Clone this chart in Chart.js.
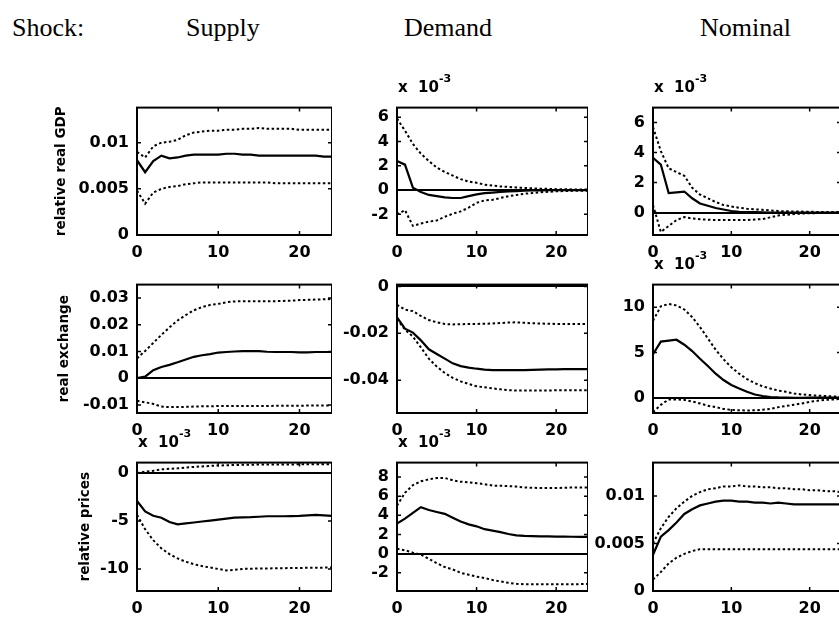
<!DOCTYPE html>
<html>
<head>
<meta charset="utf-8">
<script src="https://cdn.jsdelivr.net/npm/chart.js@4"></script>
<style>
  html, body { margin: 0; padding: 0; background: #fff; }
  body { position: relative; width: 839px; height: 623px; overflow: hidden; }
  .hd { position: absolute; top: 15px; font: 26px "Liberation Serif", serif; line-height: 26px; color: #000; white-space: nowrap; }
  .exp { position: absolute; font: bold 15px "DejaVu Sans", sans-serif; line-height: 15px; color: #000; white-space: nowrap; }
  .exp span { position: relative; top: -10px; font-size: 11px; }
  canvas { position: absolute; }
</style>
</head>
<body>
<div class="hd" style="left:12px">Shock:</div>
<div class="hd" style="left:186px">Supply</div>
<div class="hd" style="left:404px">Demand</div>
<div class="hd" style="left:700px">Nominal</div>

<script>
// horizon (quarters after the shock)
const horizon = [0, 1, 2, 3, 4, 5, 6, 7, 8, 9, 10, 11, 12, 13, 14, 15, 16, 17, 18, 19, 20, 21, 22, 23, 24];
const xTicks = [0, 10, 20];

// --- relative real GDP ---
const gdpSupply   = [0.0081, 0.0068, 0.0080, 0.0086, 0.0083, 0.0084, 0.0086, 0.0087, 0.0087, 0.0087, 0.0087, 0.0088, 0.0088, 0.0087, 0.0087, 0.0086, 0.0086, 0.0086, 0.0086, 0.0086, 0.0086, 0.0086, 0.0086, 0.0085, 0.0085];
const gdpSupplyHi = [0.0090, 0.0084, 0.0096, 0.0100, 0.0101, 0.0103, 0.0108, 0.0111, 0.0112, 0.0113, 0.0113, 0.0114, 0.0114, 0.0115, 0.0115, 0.0116, 0.0115, 0.0115, 0.0115, 0.0115, 0.0114, 0.0114, 0.0114, 0.0114, 0.0114];
const gdpSupplyLo = [0.0048, 0.0034, 0.0046, 0.0050, 0.0052, 0.0053, 0.0055, 0.0056, 0.0057, 0.0057, 0.0057, 0.0057, 0.0057, 0.0057, 0.0057, 0.0057, 0.0057, 0.0056, 0.0056, 0.0056, 0.0056, 0.0056, 0.0056, 0.0056, 0.0056];
const gdpSupplyTicks = [0, 0.005, 0.01];
const gdpSupplyLabels = ['0', '0.005', '0.01'];

// (x 10^-3)
const gdpDemand   = [2.4, 2.1, 0.2, -0.15, -0.4, -0.5, -0.6, -0.65, -0.65, -0.5, -0.35, -0.25, -0.2, -0.15, -0.1, -0.08, -0.05, -0.03, -0.02, -0.01, 0, 0, 0, 0, 0];
const gdpDemandHi = [5.9, 4.9, 3.8, 3.0, 2.4, 1.85, 1.5, 1.2, 0.9, 0.7, 0.6, 0.45, 0.37, 0.3, 0.26, 0.22, 0.18, 0.15, 0.12, 0.1, 0.08, 0.07, 0.06, 0.05, 0.05];
const gdpDemandLo = [-2.0, -1.65, -2.95, -2.75, -2.6, -2.5, -2.2, -1.95, -1.75, -1.45, -1.05, -0.85, -0.8, -0.65, -0.5, -0.4, -0.3, -0.24, -0.18, -0.14, -0.1, -0.08, -0.06, -0.05, -0.05];
const gdpDemandTicks = [-2, 0, 2, 4, 6];
const gdpDemandLabels = ['-2', '0', '2', '4', '6'];

// (x 10^-3)
const gdpNominal   = [3.65, 3.2, 1.3, 1.35, 1.4, 0.95, 0.6, 0.45, 0.3, 0.2, 0.1, 0.05, 0.03, 0.02, 0.01, 0, 0, 0, 0, 0, 0, 0, 0, 0, 0];
const gdpNominalHi = [5.7, 4.1, 2.95, 2.7, 2.45, 1.65, 1.2, 0.95, 0.7, 0.5, 0.4, 0.32, 0.25, 0.21, 0.18, 0.14, 0.1, 0.08, 0.07, 0.06, 0.05, 0.04, 0.04, 0.03, 0.03];
const gdpNominalLo = [0.5, -1.3, -0.9, -0.5, -0.3, -0.4, -0.45, -0.48, -0.5, -0.5, -0.5, -0.5, -0.5, -0.47, -0.43, -0.32, -0.2, -0.15, -0.1, -0.07, -0.05, -0.04, -0.03, -0.03, -0.02];
const gdpNominalTicks = [0, 2, 4, 6];
const gdpNominalLabels = ['0', '2', '4', '6'];

// --- real exchange ---
const rerSupply   = [0, 0.0006, 0.0030, 0.0042, 0.0050, 0.0060, 0.0070, 0.0080, 0.0086, 0.0090, 0.0096, 0.0098, 0.0100, 0.0101, 0.0101, 0.0101, 0.0099, 0.0098, 0.0098, 0.0098, 0.0097, 0.0097, 0.0098, 0.0098, 0.0098];
const rerSupplyHi = [0.0074, 0.0102, 0.0132, 0.0162, 0.0190, 0.0216, 0.0236, 0.0254, 0.0266, 0.0274, 0.0278, 0.0284, 0.0287, 0.0288, 0.0288, 0.0288, 0.0288, 0.0288, 0.0289, 0.0290, 0.0292, 0.0293, 0.0294, 0.0295, 0.0296];
const rerSupplyLo = [-0.0084, -0.0090, -0.0096, -0.0106, -0.0108, -0.0108, -0.0107, -0.0106, -0.0105, -0.0105, -0.0104, -0.0104, -0.0104, -0.0104, -0.0104, -0.0104, -0.0104, -0.0103, -0.0103, -0.0103, -0.0103, -0.0102, -0.0102, -0.0102, -0.0102];
const rerSupplyTicks = [-0.01, 0, 0.01, 0.02, 0.03];
const rerSupplyLabels = ['-0.01', '0', '0.01', '0.02', '0.03'];

const rerDemand   = [-0.0132, -0.0180, -0.0197, -0.0230, -0.0268, -0.0288, -0.0308, -0.0328, -0.0340, -0.0346, -0.0351, -0.0355, -0.0357, -0.0357, -0.0357, -0.0357, -0.0357, -0.0356, -0.0355, -0.0354, -0.0354, -0.0353, -0.0353, -0.0353, -0.0353];
const rerDemandHi = [-0.0078, -0.0099, -0.0105, -0.0126, -0.0143, -0.0153, -0.0160, -0.0162, -0.0161, -0.0160, -0.0160, -0.0159, -0.0158, -0.0156, -0.0154, -0.0153, -0.0155, -0.0157, -0.0158, -0.0159, -0.0160, -0.0160, -0.0160, -0.0160, -0.0160];
const rerDemandLo = [-0.0139, -0.0184, -0.0214, -0.0260, -0.0308, -0.0342, -0.0369, -0.0390, -0.0405, -0.0416, -0.0426, -0.0430, -0.0435, -0.0439, -0.0443, -0.0444, -0.0444, -0.0444, -0.0444, -0.0444, -0.0443, -0.0443, -0.0443, -0.0443, -0.0443];
const rerDemandTicks = [-0.04, -0.02, 0];
const rerDemandLabels = ['-0.04', '-0.02', '0'];

// (x 10^-3)
const rerNominal   = [4.8, 6.2, 6.3, 6.4, 5.85, 5.15, 4.3, 3.5, 2.65, 1.95, 1.4, 1.0, 0.65, 0.35, 0.18, 0.07, 0.02, 0, -0.02, -0.02, -0.01, 0, 0, 0, 0];
const rerNominalHi = [8.5, 10.1, 10.35, 10.2, 9.75, 8.9, 7.8, 6.55, 5.3, 4.25, 3.35, 2.65, 2.05, 1.6, 1.25, 1.0, 0.78, 0.64, 0.46, 0.35, 0.28, 0.22, 0.18, 0.14, 0.1];
const rerNominalLo = [-1.6, -0.8, -0.2, -0.2, -0.25, -0.42, -0.64, -0.9, -1.05, -1.25, -1.35, -1.4, -1.42, -1.4, -1.35, -1.25, -1.05, -0.92, -0.78, -0.64, -0.46, -0.35, -0.25, -0.2, -0.14];
const rerNominalTicks = [0, 5, 10];
const rerNominalLabels = ['0', '5', '10'];

// --- relative prices ---
// (x 10^-3)
const priceSupply   = [-2.9, -4.0, -4.45, -4.65, -5.1, -5.35, -5.25, -5.15, -5.05, -4.95, -4.85, -4.75, -4.65, -4.62, -4.6, -4.55, -4.5, -4.5, -4.5, -4.48, -4.45, -4.4, -4.35, -4.4, -4.45];
const priceSupplyHi = [0.0, 0.15, 0.25, 0.4, 0.45, 0.5, 0.58, 0.65, 0.7, 0.75, 0.8, 0.82, 0.85, 0.87, 0.88, 0.9, 0.9, 0.9, 0.9, 0.91, 0.92, 0.92, 0.93, 0.93, 0.93];
const priceSupplyLo = [-4.35, -5.85, -7.0, -7.85, -8.45, -8.9, -9.25, -9.5, -9.7, -9.85, -10.0, -10.15, -10.1, -10.0, -9.97, -9.95, -9.95, -9.93, -9.92, -9.9, -9.9, -9.88, -9.87, -9.86, -9.85];
const priceSupplyTicks = [-10, -5, 0];
const priceSupplyLabels = ['-10', '-5', '0'];

// (x 10^-3)
const priceDemand   = [3.15, 3.65, 4.25, 4.85, 4.55, 4.35, 4.15, 3.75, 3.35, 3.05, 2.85, 2.55, 2.4, 2.25, 2.05, 1.9, 1.85, 1.82, 1.8, 1.8, 1.78, 1.77, 1.76, 1.75, 1.75];
const priceDemandHi = [5.0, 6.35, 7.15, 7.55, 7.75, 7.9, 7.9, 7.65, 7.5, 7.45, 7.35, 7.25, 7.1, 7.08, 7.05, 7.0, 6.9, 6.87, 6.85, 6.85, 6.85, 6.87, 6.9, 6.9, 6.9];
const priceDemandLo = [0.5, 0.35, 0.1, -0.1, -0.55, -1.0, -1.4, -1.65, -2.0, -2.2, -2.4, -2.55, -2.75, -2.9, -3.05, -3.15, -3.2, -3.2, -3.2, -3.2, -3.2, -3.2, -3.2, -3.18, -3.15];
const priceDemandTicks = [-2, 0, 2, 4, 6, 8];
const priceDemandLabels = ['-2', '0', '2', '4', '6', '8'];

const priceNominal   = [0.0038, 0.0057, 0.0064, 0.0072, 0.0081, 0.0086, 0.0090, 0.0092, 0.0094, 0.0095, 0.0095, 0.0094, 0.0094, 0.0093, 0.0093, 0.0092, 0.0093, 0.0092, 0.0091, 0.0091, 0.0091, 0.0091, 0.0091, 0.0091, 0.0091];
const priceNominalHi = [0.0050, 0.0066, 0.0078, 0.0087, 0.0094, 0.0100, 0.0104, 0.0107, 0.0108, 0.0110, 0.0110, 0.0111, 0.0110, 0.0110, 0.0109, 0.0109, 0.0108, 0.0108, 0.0107, 0.0107, 0.0106, 0.0106, 0.0105, 0.0105, 0.0104];
const priceNominalLo = [0.0012, 0.0020, 0.0029, 0.0035, 0.0039, 0.0042, 0.0044, 0.0044, 0.0044, 0.0044, 0.0044, 0.0044, 0.0044, 0.0044, 0.0044, 0.0044, 0.0044, 0.0044, 0.0044, 0.0044, 0.0044, 0.0044, 0.0044, 0.0044, 0.0044];
const priceNominalTicks = [0, 0.005, 0.01];
const priceNominalLabels = ['0', '0.005', '0.01'];

// panel layout (plot boxes in page pixels)
const colLeft = [137, 397, 653];
const colWidth = [195, 191, 188];
const rowTop = [102, 279, 457];
const rowHeight = [133, 134, 134];
const col1AxisWidth = [84, 81, 60];

const panels = [
  { r: 0, c: 0, mid: gdpSupply, hi: gdpSupplyHi, lo: gdpSupplyLo, min: 0, max: 0.0138, ticks: gdpSupplyTicks, labels: gdpSupplyLabels, title: 'relative real GDP' },
  { r: 0, c: 1, mid: gdpDemand, hi: gdpDemandHi, lo: gdpDemandLo, min: -3.7, max: 6.8, ticks: gdpDemandTicks, labels: gdpDemandLabels, exp: true },
  { r: 0, c: 2, mid: gdpNominal, hi: gdpNominalHi, lo: gdpNominalLo, min: -1.5, max: 7, ticks: gdpNominalTicks, labels: gdpNominalLabels, exp: true },
  { r: 1, c: 0, mid: rerSupply, hi: rerSupplyHi, lo: rerSupplyLo, min: -0.013, max: 0.035, ticks: rerSupplyTicks, labels: rerSupplyLabels, title: 'real exchange' },
  { r: 1, c: 1, mid: rerDemand, hi: rerDemandHi, lo: rerDemandLo, min: -0.054, max: 0.0008, ticks: rerDemandTicks, labels: rerDemandLabels },
  { r: 1, c: 2, mid: rerNominal, hi: rerNominalHi, lo: rerNominalLo, min: -1.7, max: 12.5, ticks: rerNominalTicks, labels: rerNominalLabels, exp: true },
  { r: 2, c: 0, mid: priceSupply, hi: priceSupplyHi, lo: priceSupplyLo, min: -12.3, max: 1.1, ticks: priceSupplyTicks, labels: priceSupplyLabels, title: 'relative prices', exp: true },
  { r: 2, c: 1, mid: priceDemand, hi: priceDemandHi, lo: priceDemandLo, min: -3.9, max: 9.5, ticks: priceDemandTicks, labels: priceDemandLabels, exp: true },
  { r: 2, c: 2, mid: priceNominal, hi: priceNominalHi, lo: priceNominalLo, min: 0, max: 0.0135, ticks: priceNominalTicks, labels: priceNominalLabels }
];

const tickFont = { family: 'DejaVu Sans', size: 16, weight: 'bold' };

// box round the plot and small inward ticks, matlab style
const frame = {
  id: 'frame',
  afterDatasetsDraw(chart) {
    const { ctx, chartArea: a, scales } = chart;
    ctx.save();
    ctx.strokeStyle = '#000';
    ctx.lineWidth = 2;
    ctx.strokeRect(a.left, a.top, a.right - a.left, a.bottom - a.top);
    ctx.lineWidth = 1.5;
    ctx.beginPath();
    scales.y.ticks.forEach(t => {
      const y = scales.y.getPixelForValue(t.value);
      ctx.moveTo(a.left, y); ctx.lineTo(a.left + 4, y);
      ctx.moveTo(a.right, y); ctx.lineTo(a.right - 4, y);
    });
    scales.x.ticks.forEach(t => {
      const x = scales.x.getPixelForValue(t.value);
      ctx.moveTo(x, a.bottom); ctx.lineTo(x, a.bottom - 4);
      ctx.moveTo(x, a.top); ctx.lineTo(x, a.top + 4);
    });
    ctx.stroke();
    ctx.restore();
  }
};

const padTop = 12, xH = 30;

panels.forEach(p => {
  const yW = p.c === 0 ? col1AxisWidth[p.r] : 60;
  const L = colLeft[p.c], T = rowTop[p.r];
  const cv = document.createElement('canvas');
  cv.width = yW + colWidth[p.c];
  cv.height = padTop + rowHeight[p.r] + xH;
  cv.style.left = (L - yW) + 'px';
  cv.style.top = (T - padTop) + 'px';
  document.body.appendChild(cv);

  if (p.exp) {
    const e = document.createElement('div');
    e.className = 'exp';
    e.style.left = (L + 1) + 'px';
    e.style.top = (T - 22) + 'px';
    e.innerHTML = 'x&nbsp;&nbsp;10<span>-3</span>';
    document.body.appendChild(e);
  }

  const dotted = { borderColor: '#000', borderWidth: 2, borderDash: [2.5, 2.5], pointRadius: 0, tension: 0 };
  new Chart(cv, {
    type: 'line',
    data: {
      labels: horizon,
      datasets: [
        Object.assign({ data: p.hi }, dotted),
        Object.assign({ data: p.lo }, dotted),
        { data: p.mid, borderColor: '#000', borderWidth: 2.2, pointRadius: 0, tension: 0 }
      ]
    },
    options: {
      responsive: false,
      animation: false,
      events: [],
      layout: { padding: { top: padTop, right: 0, left: 0, bottom: 0 } },
      plugins: { legend: { display: false }, tooltip: { enabled: false } },
      scales: {
        x: {
          type: 'linear', min: 0, max: 24,
          afterBuildTicks: s => { s.ticks = xTicks.map(v => ({ value: v })); },
          afterFit: s => { s.height = xH; },
          grid: { display: false, drawTicks: false },
          border: { display: false },
          ticks: { padding: 8, color: '#000', font: tickFont, maxRotation: 0, autoSkip: false, callback: v => String(v) }
        },
        y: {
          min: p.min, max: p.max,
          afterBuildTicks: s => { s.ticks = p.ticks.map(v => ({ value: v })); },
          afterFit: s => { s.width = yW; },
          grid: {
            drawTicks: false, lineWidth: 2,
            color: c => (c.tick && c.tick.value === 0) ? '#000' : 'rgba(0,0,0,0)'
          },
          border: { display: false },
          ticks: { padding: 8, color: '#000', font: tickFont, autoSkip: false, callback: (v, i) => p.labels[i] },
          title: {
            display: !!p.title, text: p.title || '', color: '#000', padding: 0,
            font: { family: 'DejaVu Sans', size: 13.5, weight: 'bold' }
          }
        }
      }
    },
    plugins: [frame]
  });
});
</script>
</body>
</html>
